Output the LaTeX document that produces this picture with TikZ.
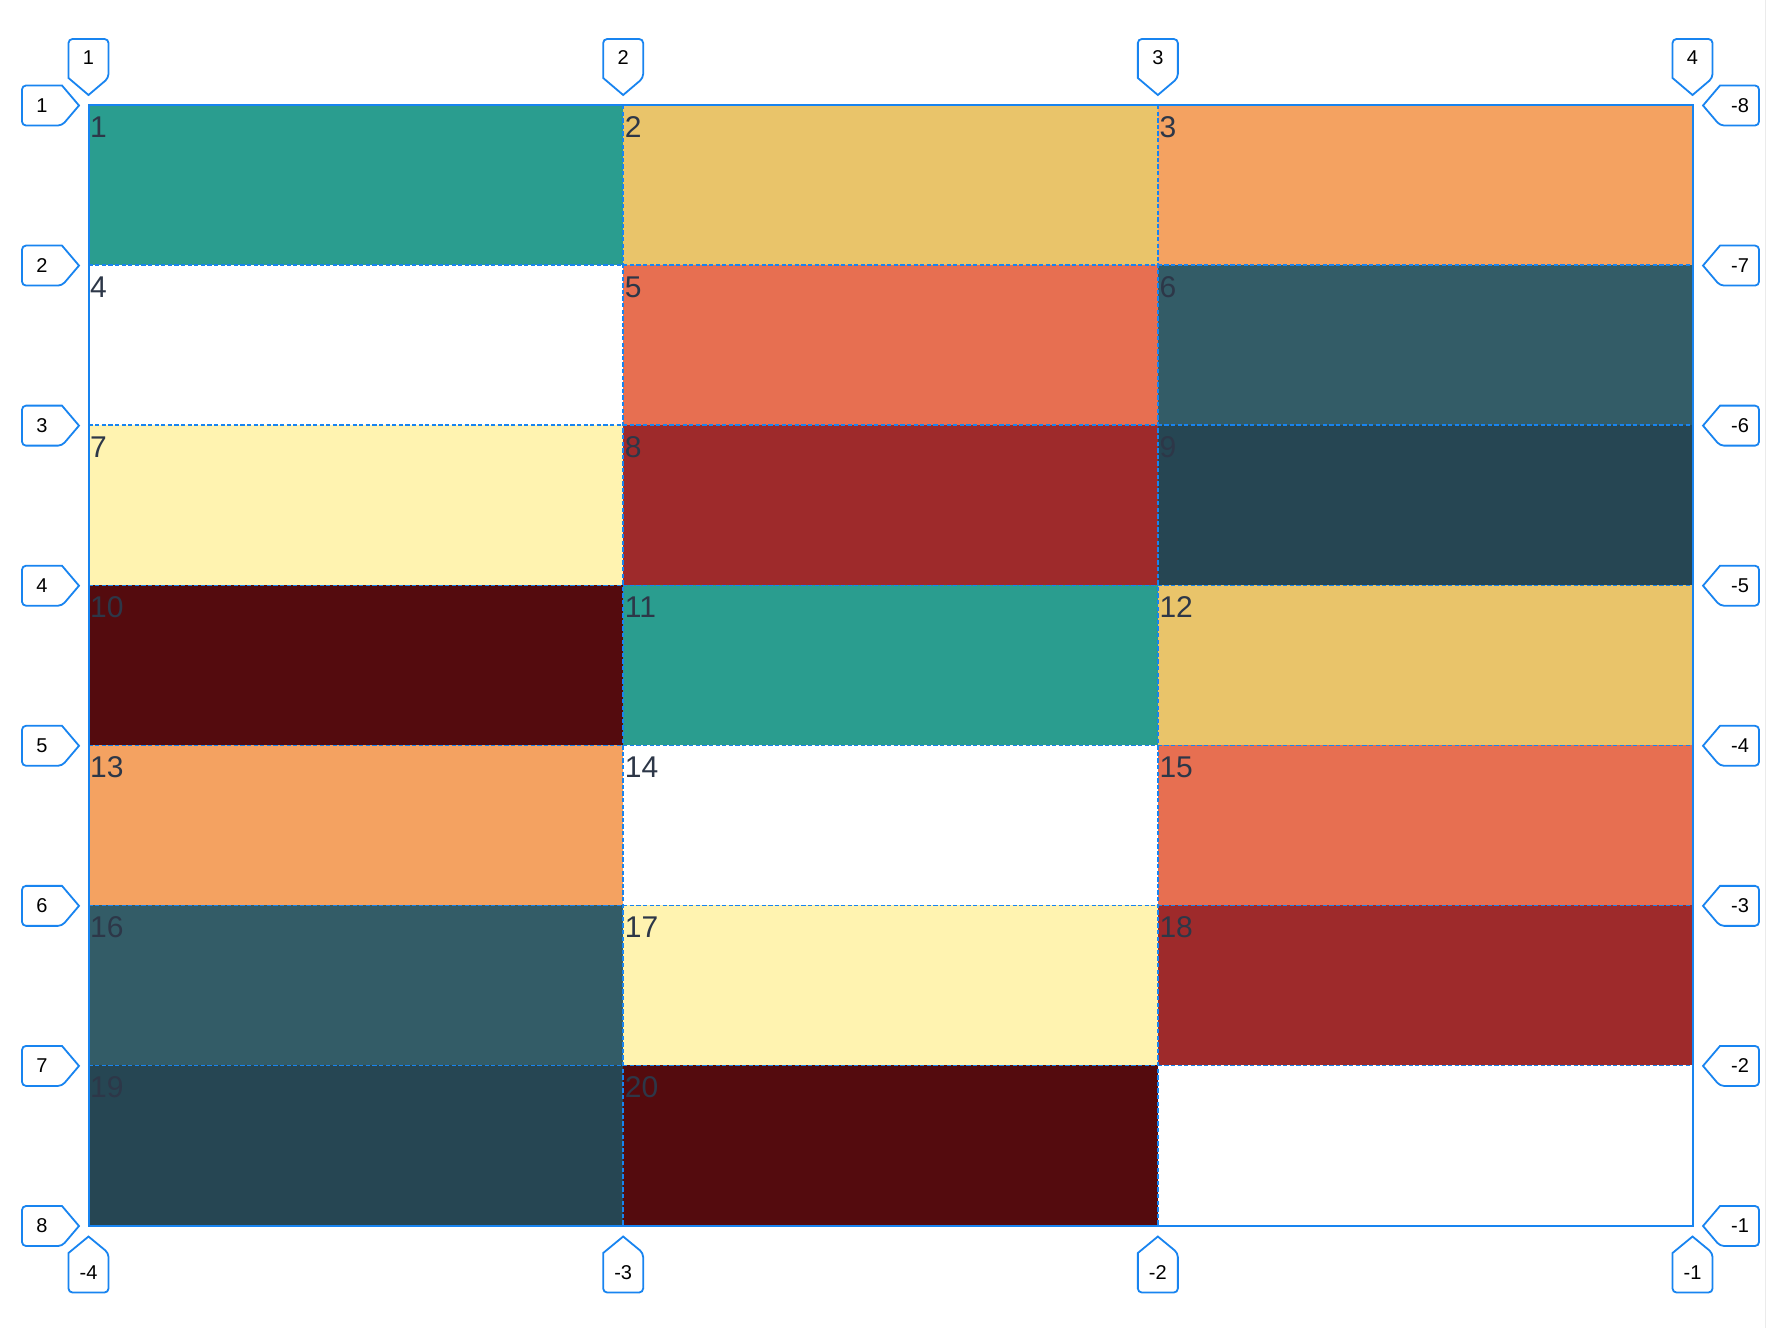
\documentclass[tikz,border=0pt]{standalone}
\usepackage{fontspec}
\setmainfont{Liberation Sans}
\definecolor{gblue}{RGB}{24,132,240}
\definecolor{numc}{RGB}{45,55,72}
\definecolor{cA}{HTML}{2A9D8F}
\definecolor{cB}{HTML}{E9C46A}
\definecolor{cC}{HTML}{F4A261}
\definecolor{cD}{HTML}{FFFFFF}
\definecolor{cE}{HTML}{E76F51}
\definecolor{cF}{HTML}{335C67}
\definecolor{cG}{HTML}{FFF3B0}
\definecolor{cH}{HTML}{9E2A2B}
\definecolor{cI}{HTML}{264653}
\definecolor{cJ}{HTML}{540B0E}
\tikzset{
  lab/.style={draw=gblue, line width=1.8pt, fill=white, line join=miter},
  labtext/.style={font=\fontsize{20}{22}\selectfont, text=black, inner sep=0pt},
  numtext/.style={font=\fontsize{30}{32}\selectfont, text=numc, inner sep=0pt, anchor=base west},
  gridline/.style={draw=gblue, line width=1.4pt, dash pattern=on 4.3pt off 2.3pt},
  border/.style={draw=gblue, line width=2pt}
}
\begin{document}
\begin{tikzpicture}[x=1pt,y=-1pt]
\useasboundingbox (0,0) rectangle (1768,1328);
\fill[white] (0,0) rectangle (1768,1328);
\draw[black!8, line width=1pt] (1765.5,0) -- (1765.5,1328);
\def\gl{88.5}\def\gt{105}\def\cw{534.667}\def\rh{160.07}
% cells
\foreach \i/\c in {1/cA,2/cB,3/cC,4/cD,5/cE,6/cF,7/cG,8/cH,9/cI,10/cJ,11/cA,12/cB,13/cC,14/cD,15/cE,16/cF,17/cG,18/cH,19/cI,20/cJ}{
  \pgfmathsetmacro\cx{\gl+mod(\i-1,3)*\cw}
  \pgfmathsetmacro\cy{\gt+div(\i-1,3)*\rh}
  \fill[\c] (\cx,\cy) rectangle ++(\cw,\rh);
  \node[numtext] (n\i) at (\cx+1.5,\cy+32) {\i};
}
% internal dashed lines
\foreach \k in {1,2}{
  \draw[gridline] (\gl+\k*\cw,\gt) -- (\gl+\k*\cw,1225.5);
}
\foreach \k in {1,...,6}{
  \draw[gridline] (\gl,\gt+\k*\rh) -- (1692.5,\gt+\k*\rh);
}
\draw[border] (\gl,\gt) rectangle (1692.5,1225.5);
% top and bottom labels
\foreach \k/\t/\b in {0/1/-4,1/2/-3,2/3/-2,3/4/-1}{
  \pgfmathsetmacro\lx{\gl+\k*\cw}
  \draw[lab] (\lx,95) -- (\lx-20,78) [rounded corners=4pt] -- (\lx-20,39) -- (\lx+20,39) -- (\lx+20,78) [sharp corners] -- cycle;
  \node[labtext] (tl\k) at (\lx,57.5) {\t};
  \draw[lab] (\lx,1236.5) -- (\lx-20,1253) [rounded corners=4pt] -- (\lx-20,1292.5) -- (\lx+20,1292.5) -- (\lx+20,1253) [sharp corners] -- cycle;
  \node[labtext] (bl\k) at (\lx,1272.5) {\b};
}
% left and right labels
\foreach \k/\l/\r in {0/1/-8,1/2/-7,2/3/-6,3/4/-5,4/5/-4,5/6/-3,6/7/-2,7/8/-1}{
  \pgfmathsetmacro\ly{\gt+\k*\rh+0.5}
  \draw[lab] (79,\ly) -- (62,\ly-20) [rounded corners=4pt] -- (22,\ly-20) -- (22,\ly+20) -- (62,\ly+20) [sharp corners] -- cycle;
  \node[labtext] (ll\k) at (42,\ly) {\l};
  \draw[lab] (1703,\ly) -- (1720,\ly-20) [rounded corners=4pt] -- (1759,\ly-20) -- (1759,\ly+20) -- (1720,\ly+20) [sharp corners] -- cycle;
  \node[labtext] (rl\k) at (1740,\ly) {\r};
}
\end{tikzpicture}
\end{document}
